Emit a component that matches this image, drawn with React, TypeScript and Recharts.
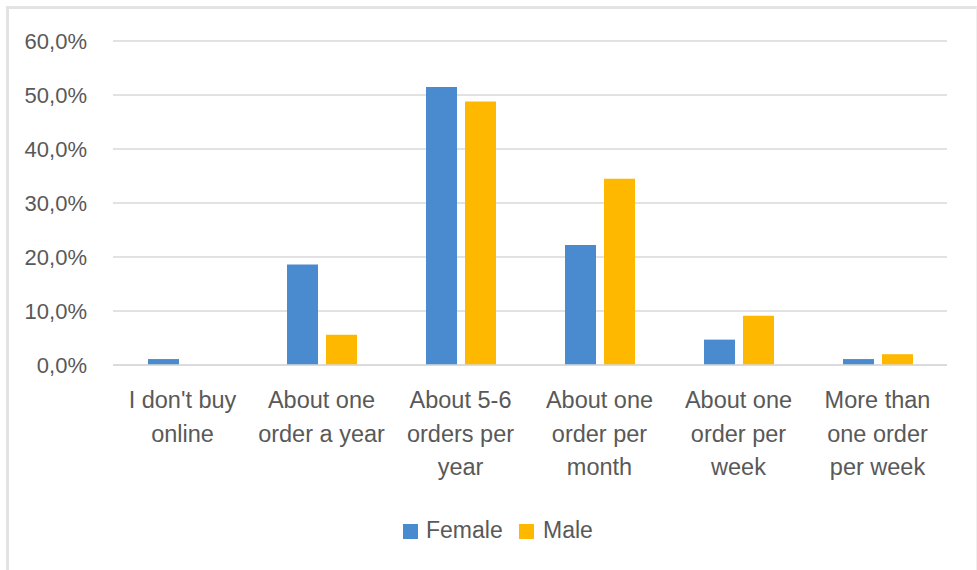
import React from "react";
import { BarChart, Bar, XAxis, YAxis, CartesianGrid } from "recharts";

const categories = [
  "I don't buy\nonline",
  "About one\norder a year",
  "About 5-6\norders per\nyear",
  "About one\norder per\nmonth",
  "About one\norder per\nweek",
  "More than\none order\nper week",
];
const female = [1.1, 18.6, 51.5, 22.2, 4.7, 1.1];
const male = [0, 5.6, 48.8, 34.5, 9.1, 2.0];
const yTicks = [0, 10, 20, 30, 40, 50, 60];
const seriesNames = ["Female", "Male"];
const seriesColors = ["#4a8bd0", "#ffb800"];

const data = categories.map((c, i) => ({ name: c, Female: female[i], Male: male[i] }));

const FONT = "'Liberation Sans', Arial, sans-serif";
const TEXT = "#595959";

const XTick = (props: any) => {
  const { x, y, payload } = props;
  const lines = String(payload.value).split("\n");
  return (
    <g transform={`translate(${x},${y})`}>
      {lines.map((l: string, i: number) => (
        <text
          key={i}
          x={0}
          y={35 + i * 33.5}
          textAnchor="middle"
          fill={TEXT}
          fontSize={23.5}
          fontFamily={FONT}
        >
          {l}
        </text>
      ))}
    </g>
  );
};

const legendPos = [
  { sq: 403, tx: 426 },
  { sq: 519, tx: 543 },
];

export default function App() {
  return (
    <div style={{ position: "absolute", left: 0, top: 0, width: 977, height: 570, background: "#fff" }}>
      <div
        style={{
          position: "absolute",
          left: 6,
          top: 6,
          width: 967,
          height: 564,
          borderTop: "3px solid #e3e3e3",
          borderLeft: "3px solid #e3e3e3",
          borderRight: "1px solid #efefef",
        }}
      />
      <div style={{ position: "absolute", left: 0, top: 0 }}>
        <BarChart
          width={977}
          height={570}
          data={data}
          margin={{ top: 41, right: 30, left: 8, bottom: 85 }}
          barSize={31}
          barGap={8}
        >
          <CartesianGrid vertical={false} stroke="#d9d9d9" strokeWidth={1.5} />
          <XAxis
            dataKey="name"
            axisLine={{ stroke: "#d9d9d9", strokeWidth: 1.5 }}
            tickLine={false}
            tick={<XTick />}
            interval={0}
            height={120}
          />
          <YAxis
            width={105}
            domain={[0, 60]}
            ticks={yTicks}
            axisLine={false}
            tickLine={false}
            tickFormatter={(v: number) => `${v.toFixed(1).replace(".", ",")}%`}
            tick={{ fill: TEXT, fontSize: 22, fontFamily: FONT }}
            tickMargin={20}
          />
          <Bar dataKey="Female" fill={seriesColors[0]} isAnimationActive={false} />
          <Bar dataKey="Male" fill={seriesColors[1]} isAnimationActive={false} />
        </BarChart>
      </div>
      <svg style={{ position: "absolute", left: 0, top: 0 }} width={977} height={570} pointerEvents="none">
        {seriesNames.map((n, i) => (
          <g key={n}>
            <rect x={legendPos[i].sq} y={524} width={15} height={15} fill={seriesColors[i]} />
            <text x={legendPos[i].tx} y={538} fontSize={23} fontFamily={FONT} fill={TEXT}>
              {n}
            </text>
          </g>
        ))}
      </svg>
    </div>
  );
}
